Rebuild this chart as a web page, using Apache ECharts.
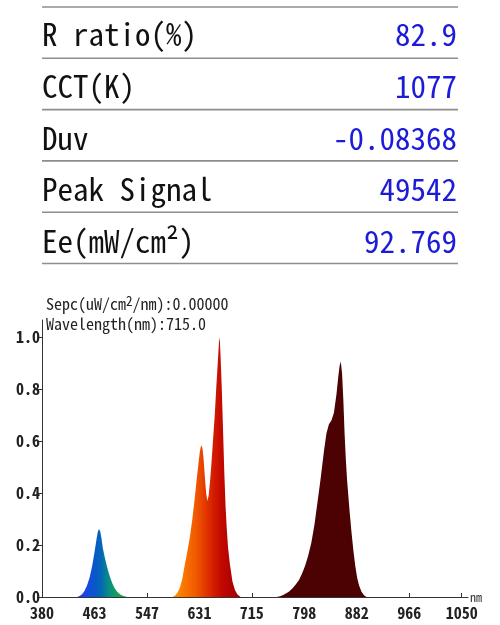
<!DOCTYPE html>
<html>
<head>
<meta charset="utf-8">
<script src="https://cdn.jsdelivr.net/npm/echarts@6/dist/echarts.min.js"></script>
<style>
html,body{margin:0;padding:0;background:#fff;}
#chart{width:500px;height:625px;}
</style>
</head>
<body>
<div id="chart"></div>
<script>
// ---- table data ----
const tableLabels = ['R ratio(%)', 'CCT(K)', 'Duv', 'Peak Signal', 'Ee(mW/cm²)'];
const tableValues = ['82.9', '1077', '-0.08368', '49542', '92.769'];

// ---- annotation ----
const sepcValue = '0.00000';
const cursorWavelength = '715.0';

// ---- axis ticks ----
const xTickValues = [380, 463.75, 547.5, 631.25, 715, 798.75, 882.5, 966.25, 1050];
const yTickValues = [0, 0.2, 0.4, 0.6, 0.8, 1.0];

// ---- spectrum (wavelength nm, relative intensity) ----
const blueWl  = [436, 440, 444, 448, 452, 456, 460, 464, 467, 469, 471, 473, 475, 477, 480, 483, 486, 489, 492, 496, 500, 505, 510, 516];
const blueVal = [0, 0.004, 0.011, 0.024, 0.045, 0.075, 0.118, 0.175, 0.222, 0.25, 0.262, 0.252, 0.225, 0.19, 0.155, 0.124, 0.097, 0.074, 0.054, 0.034, 0.02, 0.01, 0.004, 0];

const redWl  = [588, 592, 596, 600, 604, 608, 612, 616, 620, 624, 627, 630, 632, 634, 636, 638, 640, 642, 644, 646, 648, 650, 652, 654, 656, 658, 660, 662, 663, 664, 665, 667, 669, 671, 673, 675, 677, 680, 684, 688, 692, 697];
const redVal = [0, 0.005, 0.015, 0.035, 0.07, 0.125, 0.175, 0.23, 0.3, 0.385, 0.455, 0.52, 0.56, 0.585, 0.575, 0.53, 0.46, 0.4, 0.37, 0.39, 0.44, 0.5, 0.57, 0.64, 0.71, 0.8, 0.88, 0.96, 1.0, 0.985, 0.93, 0.8, 0.64, 0.48, 0.35, 0.26, 0.19, 0.125, 0.06, 0.027, 0.01, 0];

const nirWl  = [755, 760, 765, 770, 775, 780, 785, 790, 795, 800, 805, 810, 815, 820, 825, 830, 834, 838, 842, 846, 850, 853, 855, 857, 859, 861, 863, 865, 867, 869, 871, 874, 877, 880, 883, 886, 890, 894, 898];
const nirVal = [0, 0.003, 0.008, 0.014, 0.022, 0.034, 0.048, 0.065, 0.09, 0.12, 0.16, 0.21, 0.28, 0.37, 0.46, 0.56, 0.63, 0.665, 0.68, 0.71, 0.78, 0.85, 0.89, 0.907, 0.86, 0.76, 0.63, 0.53, 0.45, 0.39, 0.33, 0.25, 0.18, 0.12, 0.075, 0.045, 0.02, 0.007, 0];

const rangeStart = 380, rangeEnd = 1050;

// ---- colour stops by wavelength (style) ----
const spectrumColors = [
  [380, '#3020ff'], [436, '#2438f4'], [450, '#1a46e6'], [465, '#0858c8'], [475, '#0468b4'],
  [485, '#068a8a'], [497, '#129c60'], [515, '#22a844'],
  [588, '#ff9400'], [605, '#fa7800'], [625, '#f05a00'], [640, '#e43a00'], [655, '#d21a00'],
  [668, '#c00800'], [690, '#a80000'], [740, '#5a0000'], [755, '#4c0202'], [1050, '#4c0202']
];

// build series data
const spectrum = [[rangeStart, 0]];
[[blueWl, blueVal], [redWl, redVal], [nirWl, nirVal]].forEach(([w, v]) => {
  w.forEach((x, i) => spectrum.push([x, v[i]]));
});
spectrum.push([rangeEnd, 0]);

const colorStops = spectrumColors.map(([w, c]) => ({
  offset: (w - rangeStart) / (rangeEnd - rangeStart), color: c
}));

const CJK_MONO = '"Noto Sans Mono CJK SC", "Noto Sans CJK SC", monospace';

// table graphics
const graphics = [];
const lineTop = 7, lineGap = 51.3, rowTop = 34, rowGap = 51.9;
for (let i = 0; i <= tableLabels.length; i++) {
  const y = lineTop + i * lineGap;
  graphics.push({
    type: 'line', silent: true,
    shape: { x1: 42, y1: y, x2: 458, y2: y },
    style: { stroke: '#8e8e8e', lineWidth: 1.6 }
  });
}
tableLabels.forEach((t, i) => {
  const y = rowTop + i * rowGap;
  graphics.push({
    type: 'text', x: 42, y: y,
    style: { text: t, fontSize: 31, fontFamily: CJK_MONO, fill: '#111',
      align: 'left', verticalAlign: 'middle', textAlign: 'left', textVerticalAlign: 'middle' }
  });
  graphics.push({
    type: 'text', x: 457, y: y,
    style: { text: tableValues[i], fontSize: 31, fontFamily: CJK_MONO, fill: '#1c1cd8',
      align: 'right', verticalAlign: 'middle', textAlign: 'right', textVerticalAlign: 'middle' }
  });
});
graphics.push({
  type: 'text', x: 46, y: 304,
  style: {
    text: 'Sepc(uW/cm{s|2}/nm):' + sepcValue,
    fontSize: 16, fontFamily: CJK_MONO, fill: '#222',
    align: 'left', verticalAlign: 'middle', textAlign: 'left', textVerticalAlign: 'middle',
    rich: { s: { fontSize: 13, fontFamily: CJK_MONO, fill: '#222', verticalAlign: 'top', padding: [0, 0, 5, 0] } }
  }
});
graphics.push({
  type: 'text', x: 46, y: 324,
  style: {
    text: 'Wavelength(nm):' + cursorWavelength,
    fontSize: 16, fontFamily: CJK_MONO, fill: '#222',
    align: 'left', verticalAlign: 'middle', textAlign: 'left', textVerticalAlign: 'middle'
  }
});

const chart = echarts.init(document.getElementById('chart'), null, { renderer: 'canvas' });
chart.setOption({
  animation: false,
  backgroundColor: '#fff',
  grid: { left: 42, right: 32, top: 320, bottom: 28, containLabel: false },
  xAxis: {
    type: 'value', min: 380, max: 1060,
    name: 'nm', nameLocation: 'end', nameGap: 2,
    nameTextStyle: { fontSize: 12, fontFamily: CJK_MONO, color: '#333', padding: [0, 0, 4, 0] },
    axisLine: { show: true, lineStyle: { color: '#333', width: 1 } },
    axisTick: { show: true, inside: true, length: 4, customValues: xTickValues, lineStyle: { color: '#333' } },
    axisLabel: { customValues: xTickValues, margin: 8, fontSize: 16, fontWeight: 'bold', fontFamily: CJK_MONO, color: '#222',
      formatter: v => String(Math.floor(v)) },
    splitLine: { show: false }
  },
  yAxis: {
    type: 'value', min: 0, max: 1.067,
    axisLine: { show: true, lineStyle: { color: '#333', width: 1 } },
    axisTick: { show: true, inside: false, length: 5, customValues: yTickValues, lineStyle: { color: '#333' } },
    axisLabel: { customValues: yTickValues, margin: 2, fontSize: 16, fontWeight: 'bold', fontFamily: CJK_MONO, color: '#222',
      formatter: v => v.toFixed(1) },
    splitLine: { show: false }
  },
  series: [{
    type: 'line',
    data: spectrum,
    showSymbol: false,
    smooth: false,
    lineStyle: { width: 0, opacity: 0 },
    areaStyle: {
      opacity: 1,
      color: new echarts.graphic.LinearGradient(0, 0, 1, 0, colorStops)
    },
    silent: true
  }],
  graphic: graphics
});
</script>
</body>
</html>
